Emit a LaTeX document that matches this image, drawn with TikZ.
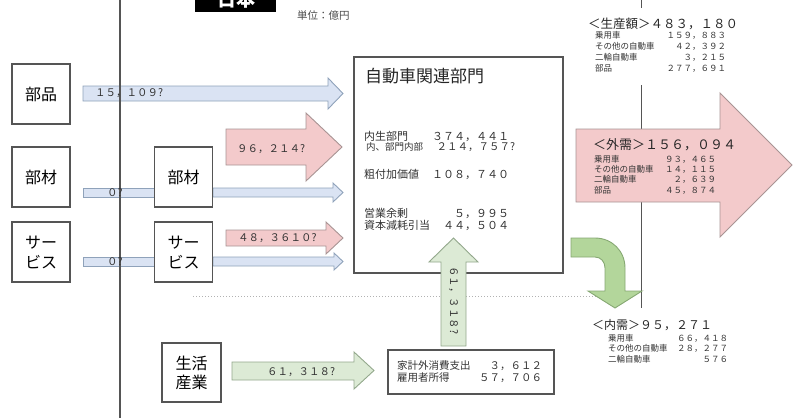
\documentclass[tikz,border=0pt]{standalone}
\usepackage{fontspec}
\setmainfont{Noto Sans CJK JP}
\usetikzlibrary{positioning}
\definecolor{lineG}{HTML}{555555}
\definecolor{bluF}{HTML}{DAE3F3}
\definecolor{bluD}{HTML}{8FA2BA}
\definecolor{pnkF}{HTML}{F3CACB}
\definecolor{pnkD}{HTML}{A89494}
\definecolor{grnF}{HTML}{DCEAD5}
\definecolor{grnD}{HTML}{93A88C}
\definecolor{grnC}{HTML}{B3D69B}
\definecolor{grnCD}{HTML}{86A873}
\definecolor{txtG}{HTML}{333333}

\begin{document}
\begin{tikzpicture}[x=1pt, y=-1pt, line join=miter]
  \tikzset{box/.style={draw=lineG, line width=1.2pt, fill=white, minimum width=58pt, minimum height=60pt, inner sep=0pt, align=center, font=\fontsize{16}{20}\selectfont},
    blueA/.style={fill=bluF, draw=bluD, line width=0.9pt},
    pinkA/.style={fill=pnkF, draw=pnkD, line width=0.9pt},
    greenA/.style={fill=grnF, draw=grnD, line width=0.9pt},
    num/.style={anchor=west, inner sep=0pt, text=txtG, font=\fontsize{10.5}{12}\selectfont},
    head/.style={anchor=west, inner sep=0pt, text=black!85},
    row/.style={anchor=west, inner sep=0pt, text=txtG, align=left, font=\fontsize{8.5}{10}\selectfont}}
  \useasboundingbox (0,0) rectangle (800,418);
  % scheidingslijnen
  \draw[lineG, line width=1pt] (641,0) -- (641,8) (641,85) -- (641,308);
  \draw[gray!60, dotted, line width=1pt] (193,296) -- (600,296);
  % pijlen naar het blok
  \draw[blueA] (83,86) -- (328,86) -- (328,78) -- (343,93.5) -- (328,109) -- (328,101) -- (83,101) -- cycle;
  \draw[pinkA] (226,129) -- (306,129) -- (306,113) -- (342,147) -- (306,181) -- (306,165) -- (226,165) -- cycle;
  \draw[blueA] (83,188) rectangle (154,197);
  \draw[blueA] (213,188) -- (333,188) -- (333,183) -- (343,192.5) -- (333,202) -- (333,197) -- (213,197) -- cycle;
  \draw[pinkA] (226,230) -- (326,230) -- (326,222) -- (343,238) -- (326,254) -- (326,246) -- (226,246) -- cycle;
  \draw[blueA] (83,257) rectangle (154,266);
  \draw[blueA] (213,257) -- (334,257) -- (334,253) -- (343,261.5) -- (334,270) -- (334,266) -- (213,266) -- cycle;
  \draw[greenA] (232,362) -- (354,362) -- (354,352) -- (374,370.5) -- (354,389) -- (354,380) -- (232,380) -- cycle;
  % blokken
  \node[box] (onderdeel) at (41,94) {部品};
  \node[box] (materiaal) at (41,177) {部材};
  \node[box] (dienst) at (41,252) {サー\\ビス};
  \node[box] (materiaal2) at (183.5,177) {部材};
  \node[box] (dienst2) at (183.5,252) {サー\\ビス};
  \node[box, minimum width=59pt, minimum height=59pt, font=\fontsize{16}{19}\selectfont] (leven) at (191.5,372.5) {生活\\産業};
  \node[draw=lineG, line width=1.2pt, fill=white, minimum width=209pt, minimum height=216pt] (auto) at (458.5,165) {};
  \node[draw=lineG, line width=1.2pt, fill=white, minimum width=166pt, minimum height=44pt] (gezin) at (471,372) {};
  % uitgaande pijlen
  \draw[greenA] (441,346) -- (441,262) -- (429,262) -- (453.5,238) -- (478,262) -- (466,262) -- (466,346) -- cycle;
  \draw[fill=grnC, draw=grnCD, line width=0.9pt] (571,238) -- (595,238) .. controls (612,238) and (625,251) .. (625,268) -- (625,291) -- (642,291) -- (615,308) -- (588,291) -- (605,291) -- (605,268) .. controls (605,262) and (601,257) .. (595,257) -- (571,257) -- cycle;
  \draw[pinkA] (576,129) -- (720,129) -- (720,93) -- (792,165) -- (720,237) -- (720,202) -- (576,202) -- cycle;
  \draw[lineG, line width=1.2pt] (120,0) -- (120,418);
  % titel
  \fill[black] (195,-20) rectangle (276,12);
  \node[text=white, inner sep=0pt, font=\bfseries\fontsize{19}{19}\selectfont] (japan) at (236,-1) {日本};
  \node[head, text=black!70, font=\fontsize{10.5}{12}\selectfont] (eenheid) at (297,16) {単位：億円};
  % getallen op de pijlen
  \node[num] (n1) at (95,93) {１５，１０９?};
  \node[num] (n2) at (237,149) {９６，２１４?};
  \node[num] (n3) at (107,193) {０?};
  \node[num] (n4) at (238,238) {４８，３６１０?};
  \node[num] (n5) at (107,262) {０?};
  \node[num] (n6) at (267,372) {６１，３１８?};
  \node[num, anchor=center, rotate=-90] (n7) at (453.5,300) {６１，３１８?};
  % tekst in het blok
  \node[head, font=\fontsize{17}{20}\selectfont] (autotitel) at (365,76) {自動車関連部門};
  \node[row, text width=145pt, font=\fontsize{11}{13}\selectfont] (a1) at (364,136) {内生部門\hfill ３７４，４４１};
  \node[row, text width=149pt, font=\fontsize{10.5}{13}\selectfont] (a2) at (366,147) {{\fontsize{9.5}{11}\selectfont 内、部門内部}\hfill ２１４，７５７?};
  \node[row, text width=145pt, font=\fontsize{11}{13}\selectfont] (a3) at (364,174) {粗付加価値\hfill １０８，７４０};
  \node[row, text width=145pt, font=\fontsize{11}{13}\selectfont] (a4) at (364,213) {営業余剰\hfill ５，９９５};
  \node[row, text width=145pt, font=\fontsize{11}{13}\selectfont] (a5) at (364,225) {資本減耗引当\hfill ４４，５０４};
  \node[row, text width=145pt, font=\fontsize{10.5}{12}\selectfont] (g1) at (397,366) {家計外消費支出\hfill ３，６１２};
  \node[row, text width=145pt, font=\fontsize{10.5}{12}\selectfont] (g2) at (397,378) {雇用者所得\hfill ５７，７０６};
  % productie
  \node[head, font=\fontsize{12.5}{14}\selectfont] (prod) at (588,24) {＜生産額＞４８３，１８０};
  \node[row, text width=131pt] (p1) at (595,35) {乗用車\hfill １５９，８８３};
  \node[row, text width=131pt] (p2) at (595,46) {その他の自動車\hfill ４２，３９２};
  \node[row, text width=131pt] (p3) at (595,57) {二輪自動車\hfill ３，２１５};
  \node[row, text width=131pt] (p4) at (595,68) {部品\hfill ２７７，６９１};
  % buitenlandse vraag
  \node[head, font=\fontsize{13}{15}\selectfont] (exp) at (593,145) {＜外需＞１５６，０９４};
  \node[row, text width=122pt] (e1) at (594,159) {乗用車\hfill ９３，４６５};
  \node[row, text width=122pt] (e2) at (594,169) {その他の自動車\hfill １４，１１５};
  \node[row, text width=122pt] (e3) at (594,179) {二輪自動車\hfill ２，６３９};
  \node[row, text width=122pt] (e4) at (594,190) {部品\hfill ４５，８７４};
  % binnenlandse vraag
  \node[head, font=\fontsize{12}{14}\selectfont] (dom) at (592,325) {＜内需＞９５，２７１};
  \node[row, text width=120pt] (d1) at (608,338) {乗用車\hfill ６６，４１８};
  \node[row, text width=120pt] (d2) at (608,348) {その他の自動車\hfill ２８，２７７};
  \node[row, text width=120pt] (d3) at (608,359) {二輪自動車\hfill ５７６};
\end{tikzpicture}
\end{document}
